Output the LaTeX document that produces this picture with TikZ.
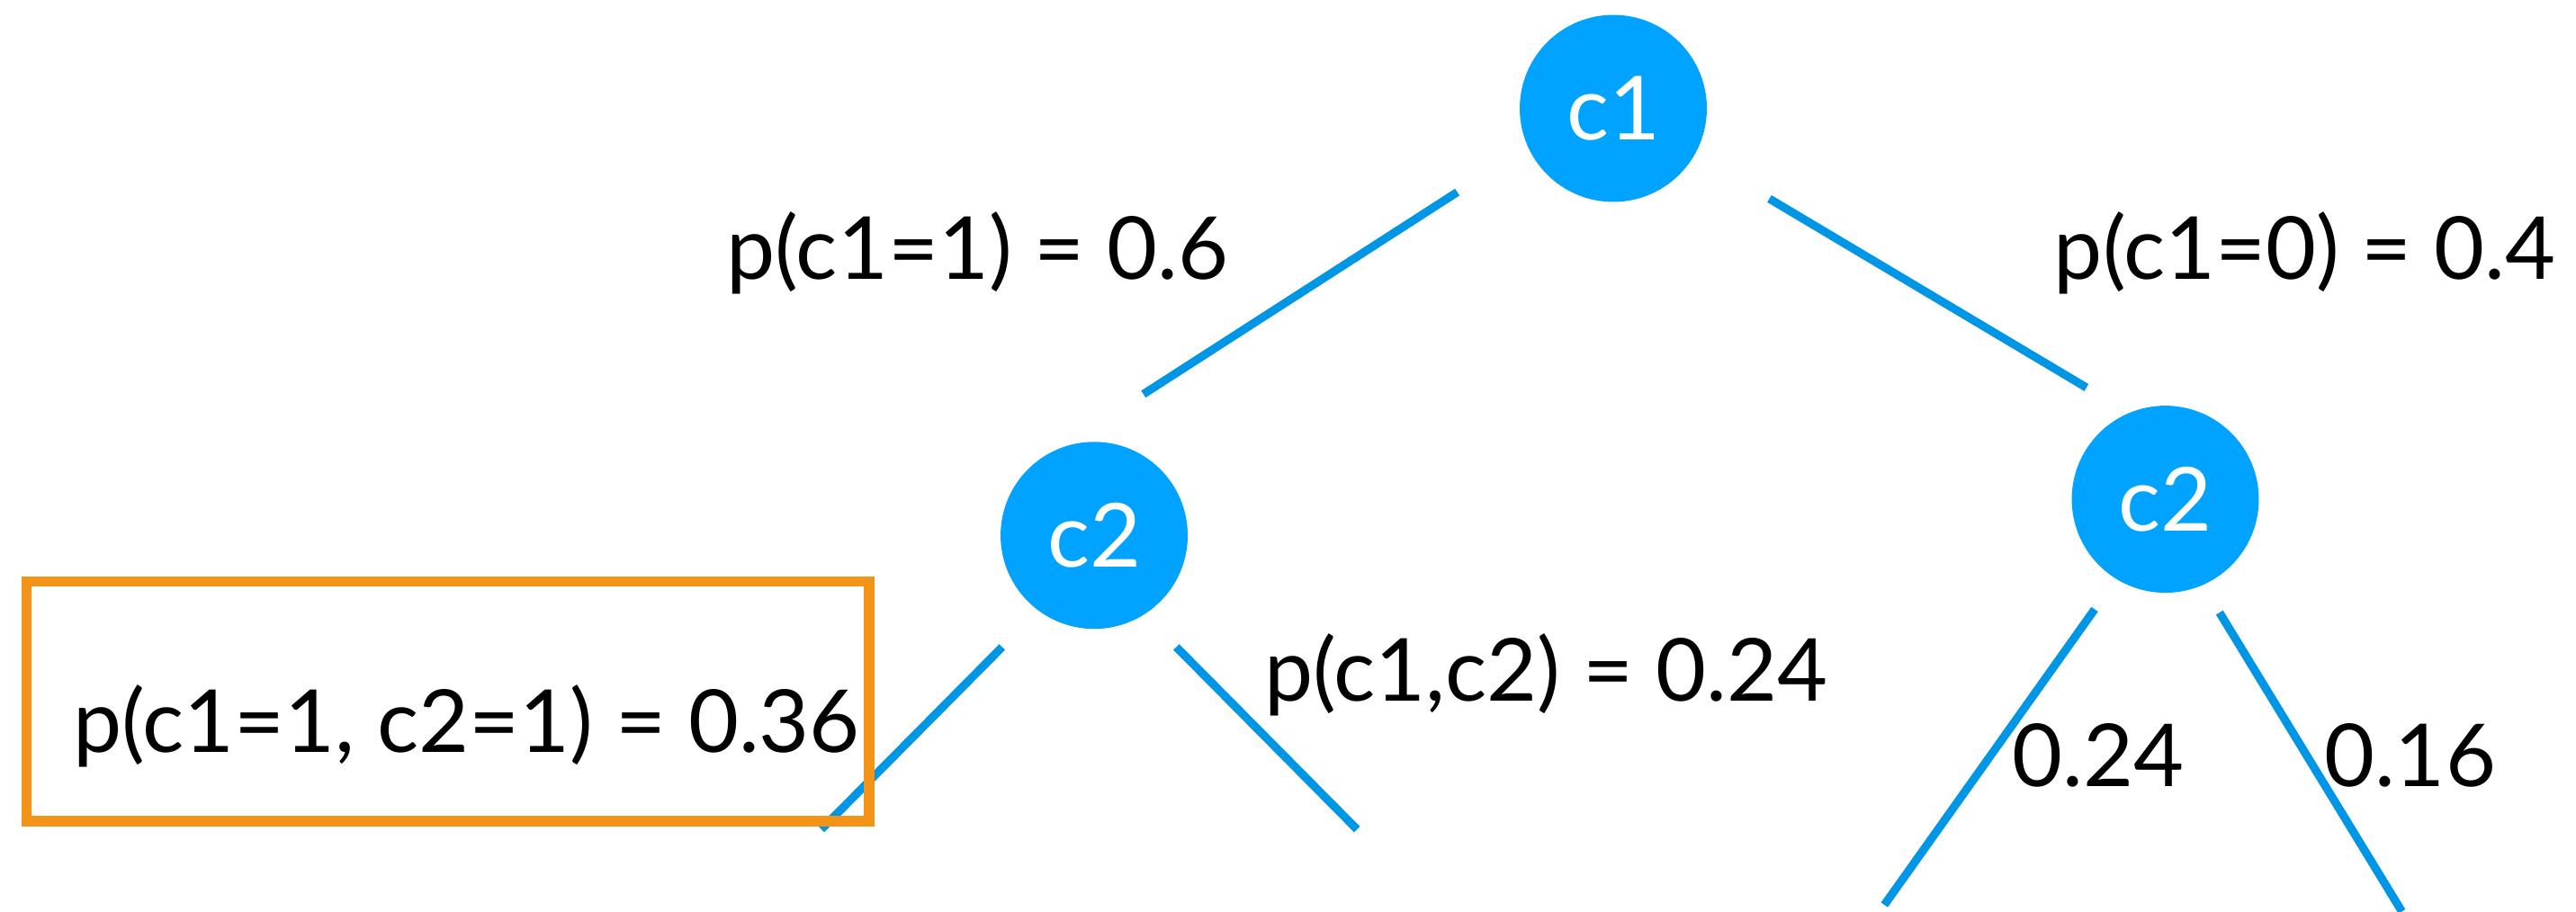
\documentclass[tikz,border=0pt]{standalone}
\usepackage{fontspec}
\setmainfont{Lato}
\usetikzlibrary{positioning}

\definecolor{nodeblue}{RGB}{0,163,255}
\definecolor{edgeblue}{RGB}{0,150,230}
\definecolor{boxorange}{RGB}{243,148,25}

\begin{document}
\begin{tikzpicture}[x=0.01826cm,y=-0.01826cm,
    var/.style={circle,fill=nodeblue,text=white,minimum size=2.08cm,
      inner sep=0pt,font=\fontsize{28}{32}\selectfont},
    prob/.style={anchor=base,inner sep=0pt,font=\fontsize{27.5}{32}\selectfont},
    edge/.style={draw=edgeblue,line width=2.6pt}]
  \useasboundingbox (0,0) rectangle (1568,555);

  % variables
  \node[var] (c1) at (982,66) {c1};
  \node[var] (c2l) at (666,326) {c2};
  \node[var] (c2r) at (1318,304) {c2};

  % free ends of the branches
  \coordinate (c1a) at (887,117);
  \coordinate (c1b) at (1077,121);
  \coordinate (c2la) at (696,240);
  \coordinate (c2ra) at (1270,236);
  \coordinate (l1) at (610,394);
  \coordinate (l2) at (716,394);
  \coordinate (l1e) at (500,505);
  \coordinate (l2e) at (826,505);
  \coordinate (r1) at (1275,371);
  \coordinate (r2) at (1351,373);
  \coordinate (r1e) at (1147,551);
  \coordinate (r2e) at (1462,555);

  \draw[edge] (c1a) -- (c2la);
  \draw[edge] (c1b) -- (c2ra);
  \draw[edge] (l1) -- (l1e);
  \draw[edge] (l2) -- (l2e);
  \draw[edge] (r1) -- (r1e);
  \draw[edge] (r2) -- (r2e);

  % probabilities
  \node[prob] (p1) at (595,170) {p(c1=1) = 0.6};
  \node[prob] (p0) at (1403,170) {p(c1=0) = 0.4};
  \node[prob] (p10) at (941,427) {p(c1,c2) = 0.24};
  \node[prob] (p01) at (1277,479) {0.24};
  \node[prob] (p00) at (1467,479) {0.16};
  \node[prob] (p11) at (284,458) {p(c1=1, c2=1) = 0.36};

  \draw[boxorange,line width=3.2pt] (16,354) rectangle (529,500);
\end{tikzpicture}
\end{document}
